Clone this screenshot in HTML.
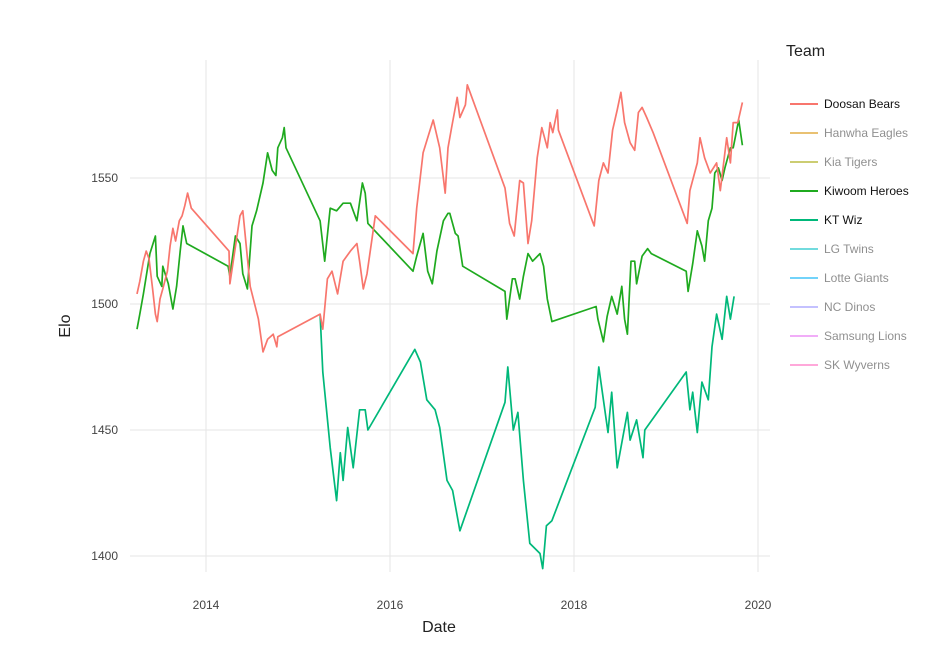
<!DOCTYPE html>
<html><head><meta charset="utf-8"><style>
body{margin:0;background:#fff;font-family:"Liberation Sans",sans-serif;}
svg text{font-family:"Liberation Sans",sans-serif;}
</style></head><body>
<svg id="chart" width="951" height="662" xmlns="http://www.w3.org/2000/svg">
<g id="grid"></g>
<g id="series"></g>
<g id="axes"></g>
<text x="439" y="632" font-size="16" text-anchor="middle" fill="#222">Date</text>
<text x="70" y="326" font-size="16" text-anchor="middle" fill="#222" transform="rotate(-90 70 326)">Elo</text>
<text x="786" y="56" font-size="16" fill="#222">Team</text>
<g id="legend"></g>
</svg>
<script>
const xTicks=[2014,2016,2018,2020];
const yTicks=[1400,1450,1500,1550];
const teams=["Doosan Bears","Hanwha Eagles","Kia Tigers","Kiwoom Heroes","KT Wiz","LG Twins","Lotte Giants","NC Dinos","Samsung Lions","SK Wyverns"];
const teamColors=["#F8766D","#D89000","#A3A500","#1FAA1F","#00B87A","#00BFC4","#00B0F6","#9590FF","#E76BF3","#FF62BC"];
const teamShown=[true,false,false,true,true,false,false,false,false,false];
const doosanDates=[2013.25,2013.28,2013.32,2013.35,2013.38,2013.40,2013.42,2013.45,2013.47,2013.50,2013.53,2013.58,2013.61,2013.64,2013.67,2013.71,2013.74,2013.77,2013.80,2013.84,2014.25,2014.26,2014.37,2014.40,2014.48,2014.57,2014.62,2014.67,2014.73,2014.77,2014.78,2015.24,2015.27,2015.32,2015.37,2015.43,2015.49,2015.57,2015.64,2015.67,2015.71,2015.75,2015.84,2016.25,2016.29,2016.36,2016.41,2016.47,2016.54,2016.60,2016.63,2016.67,2016.73,2016.76,2016.82,2016.84,2017.25,2017.30,2017.35,2017.41,2017.45,2017.50,2017.54,2017.60,2017.65,2017.71,2017.74,2017.77,2017.82,2017.83,2018.22,2018.27,2018.32,2018.37,2018.42,2018.47,2018.51,2018.55,2018.61,2018.66,2018.70,2018.74,2018.79,2018.86,2019.23,2019.26,2019.34,2019.37,2019.42,2019.48,2019.55,2019.59,2019.66,2019.70,2019.73,2019.78,2019.83];
const doosanElo=[1504,1509,1517,1521,1518,1512,1506,1496,1493,1502,1506,1513,1523,1530,1525,1533,1535,1539,1544,1538,1521,1508,1535,1537,1507,1494,1481,1486,1488,1483,1487,1496,1490,1510,1513,1504,1517,1521,1524,1517,1506,1512,1535,1520,1538,1560,1566,1573,1562,1544,1562,1570,1582,1574,1579,1587,1546,1532,1527,1549,1548,1524,1533,1558,1570,1562,1572,1568,1577,1569,1531,1549,1556,1552,1569,1577,1584,1572,1564,1561,1576,1578,1574,1568,1532,1545,1556,1566,1558,1552,1556,1545,1566,1556,1572,1572,1580];
const kiwoomDates=[2013.25,2013.28,2013.32,2013.39,2013.45,2013.47,2013.52,2013.53,2013.59,2013.64,2013.68,2013.72,2013.75,2013.79,2014.24,2014.26,2014.32,2014.37,2014.40,2014.45,2014.50,2014.55,2014.62,2014.67,2014.72,2014.76,2014.78,2014.83,2014.85,2014.87,2015.24,2015.29,2015.35,2015.42,2015.49,2015.57,2015.64,2015.70,2015.73,2015.76,2016.25,2016.29,2016.36,2016.41,2016.46,2016.51,2016.58,2016.63,2016.65,2016.71,2016.74,2016.79,2017.25,2017.27,2017.33,2017.36,2017.41,2017.45,2017.50,2017.55,2017.63,2017.67,2017.71,2017.76,2018.24,2018.26,2018.32,2018.36,2018.41,2018.47,2018.52,2018.55,2018.58,2018.62,2018.66,2018.68,2018.74,2018.80,2018.84,2019.22,2019.24,2019.29,2019.34,2019.39,2019.42,2019.46,2019.50,2019.53,2019.57,2019.61,2019.64,2019.70,2019.73,2019.79,2019.83];
const kiwoomElo=[1490,1496,1504,1520,1527,1511,1507,1515,1508,1498,1507,1521,1531,1524,1515,1511,1527,1524,1512,1506,1531,1537,1548,1560,1553,1551,1562,1566,1570,1562,1533,1517,1538,1537,1540,1540,1533,1548,1544,1532,1513,1519,1528,1513,1508,1521,1533,1536,1536,1528,1527,1515,1505,1494,1510,1510,1502,1511,1520,1517,1520,1515,1502,1493,1499,1494,1485,1495,1503,1496,1507,1494,1488,1517,1517,1508,1519,1522,1520,1513,1505,1516,1529,1523,1517,1533,1538,1552,1554,1549,1554,1562,1562,1573,1563];
const ktDates=[2015.24,2015.27,2015.35,2015.42,2015.46,2015.49,2015.54,2015.60,2015.67,2015.73,2015.76,2016.27,2016.33,2016.40,2016.49,2016.54,2016.62,2016.68,2016.76,2017.25,2017.28,2017.34,2017.39,2017.45,2017.52,2017.63,2017.66,2017.70,2017.76,2018.23,2018.27,2018.32,2018.37,2018.41,2018.47,2018.58,2018.61,2018.68,2018.75,2018.77,2019.22,2019.26,2019.29,2019.34,2019.39,2019.46,2019.50,2019.55,2019.61,2019.66,2019.70,2019.74];
const ktElo=[1496,1473,1443,1422,1441,1430,1451,1435,1458,1458,1450,1482,1477,1462,1458,1451,1430,1426,1410,1461,1475,1450,1457,1430,1405,1401,1395,1412,1414,1459,1475,1462,1449,1465,1435,1457,1446,1454,1439,1450,1473,1458,1465,1449,1469,1462,1483,1496,1486,1503,1494,1503];

const NS="http://www.w3.org/2000/svg";
const xS=d=>206+(d-2014)*92;
const yS=v=>178+(1550-v)*2.52;
function mk(tag,attrs,parent){const e=document.createElementNS(NS,tag);for(const k in attrs)e.setAttribute(k,attrs[k]);parent.appendChild(e);return e;}
const grid=document.getElementById('grid'),axes=document.getElementById('axes'),series=document.getElementById('series'),legend=document.getElementById('legend');
xTicks.forEach(t=>{
  const l=mk('line',{x1:xS(t),x2:xS(t),y1:60,y2:572,stroke:'#e6e6e6','stroke-width':1},grid);
  
  
  const tx=mk('text',{x:xS(t),y:609,'font-size':12,'text-anchor':'middle',fill:'#444'},axes);
  tx.textContent=t;
  
  
});
yTicks.forEach(t=>{
  const l=mk('line',{x1:130,x2:770,y1:yS(t),y2:yS(t),stroke:'#e6e6e6','stroke-width':1},grid);
  
  
  const tx=mk('text',{x:118,y:yS(t)+4,'font-size':12,'text-anchor':'end',fill:'#444'},axes);
  tx.textContent=t;
  
  
});
function drawLine(dates,vals,color,name){
  const d=dates.map((x,i)=>(i?'L':'M')+xS(x).toFixed(1)+','+yS(vals[i]).toFixed(1)).join('');
  const p=mk('path',{d:d,fill:'none',stroke:color,'stroke-width':1.7,'stroke-linejoin':'round'},series);
  
  
}
drawLine(ktDates,ktElo,teamColors[4],'kt-wiz-line');
drawLine(kiwoomDates,kiwoomElo,teamColors[3],'kiwoom-heroes-line');
drawLine(doosanDates,doosanElo,teamColors[0],'doosan-bears-line');
teams.forEach((t,i)=>{
  const y=104+i*29;
  const g=mk('g',{opacity:teamShown[i]?1:0.55},legend);
  
  
  mk('line',{x1:790,x2:818,y1:y,y2:y,stroke:teamColors[i],'stroke-width':2},g);
  const tx=mk('text',{x:824,y:y+4,'font-size':12,fill:teamShown[i]?'#111':'#333'},g);
  tx.textContent=t;
});
</script>
</body></html>
